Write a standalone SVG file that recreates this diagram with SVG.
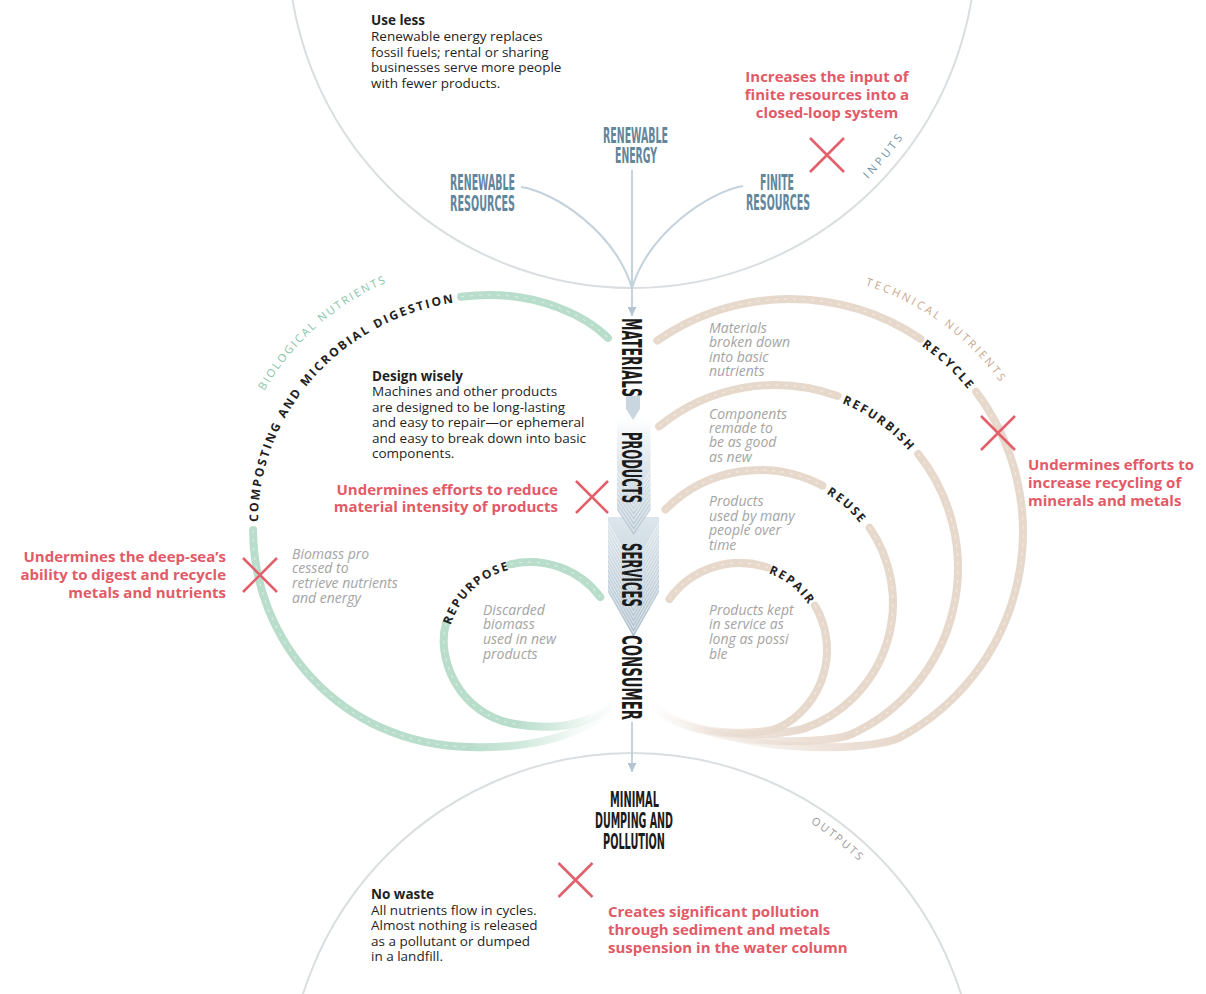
<svg xmlns="http://www.w3.org/2000/svg" width="1206" height="994" viewBox="0 0 1206 994">
<style>
.sans{font-family:"Open Sans","Noto Sans","Liberation Sans",sans-serif}
.body{font-size:13.5px;fill:#1f1f1f}
.b{font-weight:700}
.red{font-size:15px;font-weight:700;fill:#e25a67}
.note{font-size:14px;font-style:italic;fill:#a4a4a4}
.cond{font-family:"Liberation Sans Narrow","DejaVu Sans Condensed","Liberation Sans",sans-serif}
.blu{font-size:21px;font-weight:700;fill:#62869c}
.blk{font-size:21px;font-weight:700;fill:#1b1b1b}
.vl{font-size:27px;font-weight:700;fill:#1b1b1b}
.bl{font-size:12px;font-weight:700;letter-spacing:2.3px;fill:#222}
.ring{fill:none;stroke:#dadee1;stroke-width:2}
.conn{fill:none;stroke:#c4d2dc;stroke-width:2}
.gb{fill:none;stroke:#b8ddcb;stroke-width:8;stroke-linecap:round}
.tb{fill:none;stroke:#e7d8cc;stroke-width:8;stroke-linecap:round}
.gt{fill:none;stroke:url(#gfade);stroke-width:8}
.tt{fill:none;stroke:url(#tfade);stroke-width:8}
.chev{fill:none;stroke:#fff;stroke-opacity:.45;stroke-width:1.2;stroke-dasharray:3 6}
.xm{fill:none;stroke:#e2606b;stroke-width:2.6}
.stripe{fill:none;stroke:#fff;stroke-opacity:.55;stroke-width:1.1}
</style>
<defs>
<marker id="arr" viewBox="0 0 10 10" refX="10" refY="5" markerWidth="9" markerHeight="9" markerUnits="userSpaceOnUse" orient="auto"><path d="M0,0 L10,5 L0,10 z" fill="#b3c5d1"/></marker>
<linearGradient id="gfade" x1="0" y1="0" x2="1" y2="0"><stop offset="0" stop-color="#b8ddcb"/><stop offset="0.3" stop-color="#b8ddcb" stop-opacity=".7"/><stop offset="0.75" stop-color="#b8ddcb" stop-opacity=".12"/><stop offset="1" stop-color="#b8ddcb" stop-opacity="0"/></linearGradient>
<linearGradient id="tfade" x1="1" y1="0" x2="0" y2="0"><stop offset="0" stop-color="#e7d8cc"/><stop offset="0.3" stop-color="#e7d8cc" stop-opacity=".7"/><stop offset="0.75" stop-color="#e7d8cc" stop-opacity=".12"/><stop offset="1" stop-color="#e7d8cc" stop-opacity="0"/></linearGradient>
<linearGradient id="prodg" x1="0" y1="0" x2="0" y2="1"><stop offset="0" stop-color="#ffffff"/><stop offset="0.35" stop-color="#e3eaef"/><stop offset="1" stop-color="#b8c8d3"/></linearGradient>
<linearGradient id="servg" x1="0" y1="0" x2="0" y2="1"><stop offset="0" stop-color="#dde6ec"/><stop offset="1" stop-color="#adbfcc"/></linearGradient>
<clipPath id="cprod"><polygon points="617,417 650.5,417 650.5,510 633.7,535 617,510"/></clipPath>
<clipPath id="cserv"><polygon points="608,517 659,517 659,592 633.5,637 608,592"/></clipPath>
<path id="g-out-a" d="M253.1 529.9 C253 640 340 745 470 747"/>
<path id="g-out-b" d="M461.1 296.7 A237 227 0 0 1 490 295 C540 295 585 315 608 338"/>
<path id="g-out-t" d="M470 747 C530 749 588 736 617 702"/>
<path id="g-in-a" d="M446.3 622.8 C435.5 656.1 458 715 515 724"/>
<path id="g-in-b" d="M510.2 564.3 A88 88 0 0 1 600.3 597"/>
<path id="g-in-t" d="M515 724 C560 732 595 722 617 702"/>
<path id="t-rec-a" d="M657.4 340.5 A233 233 0 0 1 920.3 338.8"/>
<path id="t-rec-b" d="M976.1 391.8 A233 233 0 0 1 900.1 737.3"/>
<path id="t-rec-t" d="M900.1 737.3 C873.7 751.5 730 758 652 705"/>
<path id="t-ref-a" d="M659.1 426.4 A183 183 0 0 1 837.6 396"/>
<path id="t-ref-b" d="M918.2 454.1 A183 183 0 0 1 852.3 733.9"/>
<path id="t-ref-t" d="M852.3 733.9 C829.7 744.5 700 750 652 705"/>
<path id="t-reu-a" d="M665.5 509.4 A133 133 0 0 1 822.4 485.6"/>
<path id="t-reu-b" d="M869.6 527.7 A133 133 0 0 1 805.5 728"/>
<path id="t-reu-t" d="M805.5 728 C786.7 734.8 690 745 652 705"/>
<path id="t-rep-a" d="M669.4 599.1 A87 87 0 0 1 767.6 567.5"/>
<path id="t-rep-b" d="M815 605.8 A87 87 0 0 1 780.8 726.8"/>
<path id="t-rep-t" d="M780.8 726.8 C763.1 736.2 680 738 652 705"/>
<path id="tp-compost" d="M253 522 A237 227 0 0 1 455 297.5"/>
<path id="tp-repurpose" d="M445.4 625.7 A88 88 0 0 1 511.7 563.9"/>
<path id="tp-recycle" d="M915.2 335.5 A233 233 0 0 1 979.7 396.7"/>
<path id="tp-refurbish" d="M834.6 395 A183 183 0 0 1 920.2 456.6"/>
<path id="tp-reuse" d="M814.1 481.5 A133 133 0 0 1 874.6 535.5"/>
<path id="tp-repair" d="M765.4 566.8 A87 87 0 0 1 816.1 607.8"/>
<path id="tp-bio" d="M259.6 399.5 A261 261 0 0 1 396.5 278.3"/>
<path id="tp-tech" d="M865.4 285.3 A258 258 0 0 1 1001.4 384"/>
<path id="tp-inputs" d="M863.3 183.5 A333 333 0 0 0 908.1 130.2"/>
<path id="tp-outputs" d="M803.4 818.3 A328 328 0 0 1 866 868.1"/>
</defs>

<rect width="1206" height="994" fill="#ffffff"/>

<g id="inputs-ring">
<circle class="ring" cx="632" cy="-56" r="344"/>
<text class="sans" font-size="11" letter-spacing="3.2" fill="#6d90a6"><textPath href="#tp-inputs" startOffset="50%" text-anchor="middle">INPUTS</textPath></text>
</g>
<g id="outputs-ring">
<circle class="ring" cx="632" cy="1098" r="345" stroke="#d3d7da"/>
<text class="sans" font-size="11" letter-spacing="2" fill="#9a9a9a"><textPath href="#tp-outputs" startOffset="50%" text-anchor="middle">OUTPUTS</textPath></text>
</g>

<g id="use-less">
<text class="sans body" x="371" y="25"><tspan class="b">Use less</tspan><tspan x="371" dy="15.8">Renewable energy replaces</tspan><tspan x="371" dy="15.8">fossil fuels; rental or sharing</tspan><tspan x="371" dy="15.8">businesses serve more people</tspan><tspan x="371" dy="15.8">with fewer products.</tspan></text>
</g>
<g id="design-wisely">
<text class="sans body" x="372" y="381"><tspan class="b">Design wisely</tspan><tspan x="372" dy="15.4">Machines and other products</tspan><tspan x="372" dy="15.4">are designed to be long-lasting</tspan><tspan x="372" dy="15.4">and easy to repair—or ephemeral</tspan><tspan x="372" dy="15.4">and easy to break down into basic</tspan><tspan x="372" dy="15.4">components.</tspan></text>
</g>
<g id="no-waste">
<text class="sans body" x="371" y="899"><tspan class="b">No waste</tspan><tspan x="371" dy="15.5">All nutrients flow in cycles.</tspan><tspan x="371" dy="15.5">Almost nothing is released</tspan><tspan x="371" dy="15.5">as a pollutant or dumped</tspan><tspan x="371" dy="15.5">in a landfill.</tspan></text>
</g>

<g id="renewable-energy">
<text class="cond blu" x="603" y="143" textLength="65" lengthAdjust="spacingAndGlyphs">RENEWABLE</text>
<text class="cond blu" x="615" y="163" textLength="42" lengthAdjust="spacingAndGlyphs">ENERGY</text>
</g>
<g id="renewable-resources">
<text class="cond blu" x="450" y="190" textLength="65" lengthAdjust="spacingAndGlyphs">RENEWABLE</text>
<text class="cond blu" x="450" y="211" textLength="65" lengthAdjust="spacingAndGlyphs">RESOURCES</text>
</g>
<g id="finite-resources">
<text class="cond blu" x="760" y="190" textLength="34" lengthAdjust="spacingAndGlyphs">FINITE</text>
<text class="cond blu" x="746" y="210" textLength="64" lengthAdjust="spacingAndGlyphs">RESOURCES</text>
</g>

<g id="connectors">
<path class="conn" d="M521 187 C555 192 615 232 632 288"/>
<path class="conn" d="M632 170 L632 288"/>
<path class="conn" d="M743 186 C709 192 649 232 632 288"/>
<path class="conn" d="M632 288 L632 316" marker-end="url(#arr)"/>
<path class="conn" d="M632 722 L632 772" marker-end="url(#arr)"/>
</g>

<g id="loop-composting">
<use href="#g-out-a" class="gb"/><use href="#g-out-b" class="gb"/><use href="#g-out-t" class="gt"/>
<use href="#g-out-a" class="chev"/><use href="#g-out-b" class="chev"/>
<text class="sans bl" dominant-baseline="central"><textPath href="#tp-compost" startOffset="50%" text-anchor="middle">COMPOSTING AND MICROBIAL DIGESTION</textPath></text>
<text class="sans" font-size="11" letter-spacing="2.1" fill="#86c4a6"><textPath href="#tp-bio" startOffset="50%" text-anchor="middle">BIOLOGICAL NUTRIENTS</textPath></text>
</g>
<g id="loop-repurpose">
<use href="#g-in-a" class="gb"/><use href="#g-in-b" class="gb"/><use href="#g-in-t" class="gt"/>
<use href="#g-in-a" class="chev"/><use href="#g-in-b" class="chev"/>
<text class="sans bl" dominant-baseline="central"><textPath href="#tp-repurpose" startOffset="50%" text-anchor="middle">REPURPOSE</textPath></text>
</g>

<g id="loop-recycle">
<use href="#t-rec-a" class="tb"/><use href="#t-rec-b" class="tb"/><use href="#t-rec-t" class="tt"/>
<use href="#t-rec-a" class="chev"/><use href="#t-rec-b" class="chev"/>
<text class="sans bl" dominant-baseline="central"><textPath href="#tp-recycle" startOffset="50%" text-anchor="middle">RECYCLE</textPath></text>
<text class="sans" font-size="11" letter-spacing="2.7" fill="#caa68b"><textPath href="#tp-tech" startOffset="50%" text-anchor="middle">TECHNICAL NUTRIENTS</textPath></text>
</g>
<g id="loop-refurbish">
<use href="#t-ref-a" class="tb"/><use href="#t-ref-b" class="tb"/><use href="#t-ref-t" class="tt"/>
<use href="#t-ref-a" class="chev"/><use href="#t-ref-b" class="chev"/>
<text class="sans bl" dominant-baseline="central"><textPath href="#tp-refurbish" startOffset="50%" text-anchor="middle">REFURBISH</textPath></text>
</g>
<g id="loop-reuse">
<use href="#t-reu-a" class="tb"/><use href="#t-reu-b" class="tb"/><use href="#t-reu-t" class="tt"/>
<use href="#t-reu-a" class="chev"/><use href="#t-reu-b" class="chev"/>
<text class="sans bl" dominant-baseline="central"><textPath href="#tp-reuse" startOffset="50%" text-anchor="middle">REUSE</textPath></text>
</g>
<g id="loop-repair">
<use href="#t-rep-a" class="tb"/><use href="#t-rep-b" class="tb"/><use href="#t-rep-t" class="tt"/>
<use href="#t-rep-a" class="chev"/><use href="#t-rep-b" class="chev"/>
<text class="sans bl" dominant-baseline="central"><textPath href="#tp-repair" startOffset="50%" text-anchor="middle">REPAIR</textPath></text>
</g>

<g id="notes">
<text class="sans note" x="292" y="558.5"><tspan>Biomass pro</tspan><tspan x="292" dy="14.7">cessed to</tspan><tspan x="292" dy="14.7">retrieve nutrients</tspan><tspan x="292" dy="14.7">and energy</tspan></text>
<text class="sans note" x="483" y="614.5"><tspan>Discarded</tspan><tspan x="483" dy="14.7">biomass</tspan><tspan x="483" dy="14.7">used in new</tspan><tspan x="483" dy="14.7">products</tspan></text>
<text class="sans note" x="709" y="332.5"><tspan>Materials</tspan><tspan x="709" dy="14.6">broken down</tspan><tspan x="709" dy="14.6">into basic</tspan><tspan x="709" dy="14.6">nutrients</tspan></text>
<text class="sans note" x="709" y="418.5"><tspan>Components</tspan><tspan x="709" dy="14.4">remade to</tspan><tspan x="709" dy="14.4">be as good</tspan><tspan x="709" dy="14.4">as new</tspan></text>
<text class="sans note" x="709" y="506"><tspan>Products</tspan><tspan x="709" dy="14.7">used by many</tspan><tspan x="709" dy="14.7">people over</tspan><tspan x="709" dy="14.7">time</tspan></text>
<text class="sans note" x="709" y="614.5"><tspan>Products kept</tspan><tspan x="709" dy="14.7">in service as</tspan><tspan x="709" dy="14.7">long as possi</tspan><tspan x="709" dy="14.7">ble</tspan></text>
</g>

<g id="services">
<polygon points="608,517 659,517 659,592 633.5,637 608,592" fill="url(#servg)"/>
<g clip-path="url(#cserv)">
<path class="stripe" d="M608 588 L633.5 633 L659 588 M608 583 L633.5 628 L659 583 M608 578 L633.5 623 L659 578 M608 573 L633.5 618 L659 573 M608 568 L633.5 613 L659 568 M608 563 L633.5 608 L659 563 M608 558 L633.5 603 L659 558 M608 553 L633.5 598 L659 553 M608 548 L633.5 593 L659 548 M608 543 L633.5 588 L659 543 M608 538 L633.5 583 L659 538 M608 533 L633.5 578 L659 533 M608 528 L633.5 573 L659 528 M608 523 L633.5 568 L659 523"/>
</g>
<text class="cond vl" transform="translate(632,575) rotate(90)" x="0" y="9.7" text-anchor="middle" textLength="64" lengthAdjust="spacingAndGlyphs">SERVICES</text>
</g>
<g id="products">
<polygon points="617,417 650.5,417 650.5,510 633.7,535 617,510" fill="url(#prodg)"/>
<g clip-path="url(#cprod)">
<path class="stripe" d="M617 506 L633.7 531 L650.5 506 M617 501 L633.7 526 L650.5 501 M617 496 L633.7 521 L650.5 496 M617 491 L633.7 516 L650.5 491 M617 486 L633.7 511 L650.5 486 M617 481 L633.7 506 L650.5 481 M617 476 L633.7 501 L650.5 476 M617 471 L633.7 496 L650.5 471"/>
</g>
<text class="cond vl" transform="translate(632,467.5) rotate(90)" x="0" y="9.7" text-anchor="middle" textLength="71" lengthAdjust="spacingAndGlyphs">PRODUCTS</text>
</g>
<g id="materials">
<polygon points="626,396 640,396 640,409 633,420 626,409" fill="#c9d6e0"/>
<text class="cond vl" transform="translate(632,357.5) rotate(90)" x="0" y="9.7" text-anchor="middle" textLength="79" lengthAdjust="spacingAndGlyphs">MATERIALS</text>
</g>
<g id="consumer">
<text class="cond vl" transform="translate(632,677.5) rotate(90)" x="0" y="9.7" text-anchor="middle" textLength="85" lengthAdjust="spacingAndGlyphs">CONSUMER</text>
</g>

<g id="minimal-dumping">
<text class="cond blk" x="610" y="807" textLength="49" lengthAdjust="spacingAndGlyphs">MINIMAL</text>
<text class="cond blk" x="595" y="828" textLength="78" lengthAdjust="spacingAndGlyphs">DUMPING AND</text>
<text class="cond blk" x="603" y="849" textLength="62" lengthAdjust="spacingAndGlyphs">POLLUTION</text>
</g>

<g id="impact-inputs">
<path class="xm" d="M810 138 L844 172 M844 138 L810 172"/>
<text class="sans red" x="827" y="82" text-anchor="middle"><tspan>Increases the input of</tspan><tspan x="827" dy="18">finite resources into a</tspan><tspan x="827" dy="18">closed-loop system</tspan></text>
</g>
<g id="impact-products">
<path class="xm" d="M576 481 L608 513 M608 481 L576 513"/>
<text class="sans red" x="558" y="495" text-anchor="end"><tspan>Undermines efforts to reduce</tspan><tspan x="558" dy="16.8">material intensity of products</tspan></text>
</g>
<g id="impact-biological">
<path class="xm" d="M243 558 L277 592 M277 558 L243 592"/>
<text class="sans red" x="226" y="562" text-anchor="end"><tspan>Undermines the deep-sea’s</tspan><tspan x="226" dy="18">ability to digest and recycle</tspan><tspan x="226" dy="18">metals and nutrients</tspan></text>
</g>
<g id="impact-recycling">
<path class="xm" d="M981 416 L1015 450 M1015 416 L981 450"/>
<text class="sans red" x="1028" y="470"><tspan>Undermines efforts to</tspan><tspan x="1028" dy="17.8">increase recycling of</tspan><tspan x="1028" dy="17.8">minerals and metals</tspan></text>
</g>
<g id="impact-outputs">
<path class="xm" d="M558.5 863 L592.5 897 M592.5 863 L558.5 897"/>
<text class="sans red" x="608" y="917"><tspan>Creates significant pollution</tspan><tspan x="608" dy="18">through sediment and metals</tspan><tspan x="608" dy="18">suspension in the water column</tspan></text>
</g>
</svg>
